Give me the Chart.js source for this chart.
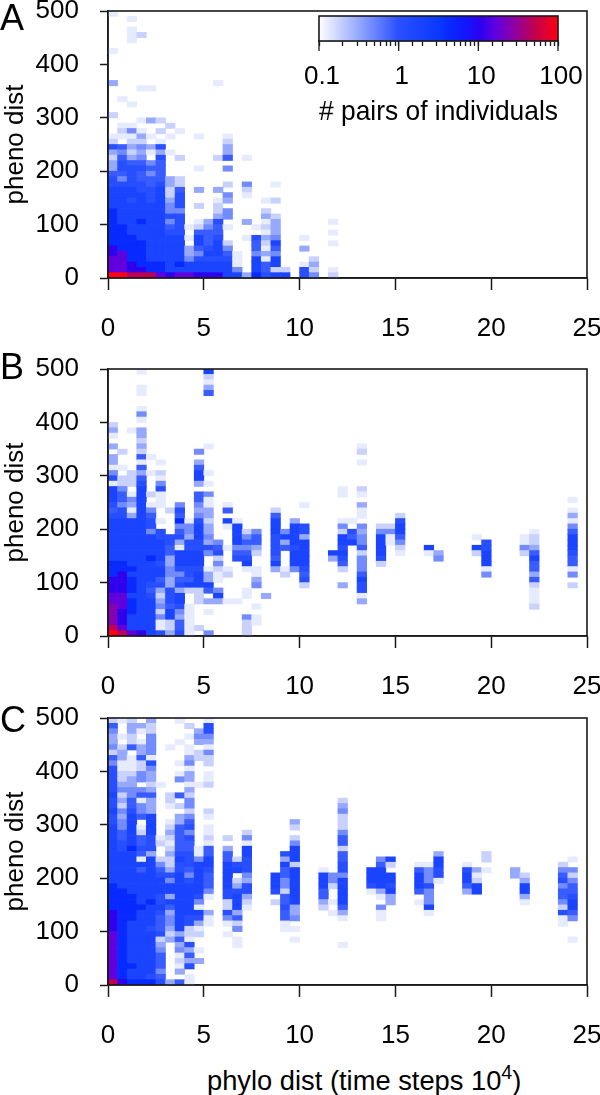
<!DOCTYPE html>
<html><head><meta charset="utf-8">
<script src="https://cdn.jsdelivr.net/npm/chart.js@4"></script>
<style>
html,body{margin:0;padding:0;background:#fff;width:600px;height:1095px;overflow:hidden;font-family:"Liberation Sans",sans-serif;color:#000}
canvas{position:absolute;left:0}
.t{position:absolute;white-space:nowrap;line-height:1}
sup{font-size:.72em;line-height:0;vertical-align:.55em}
</style></head><body>
<canvas id="pa" width="600" height="340" style="top:0"></canvas>
<canvas id="pb" width="600" height="340" style="top:358px"></canvas>
<canvas id="pc" width="600" height="340" style="top:707px"></canvas>
<canvas id="cb" width="300" height="125" style="left:300px;top:10px"></canvas>
<div class="t" style="left:0;top:0;font-size:36px">A</div>
<div class="t" style="left:0;top:349px;font-size:36px">B</div>
<div class="t" style="left:0;top:702px;font-size:36px">C</div>
<div class="t" id="xl" style="left:207px;top:1067px;font-size:27.3px">phylo dist (time steps 10<sup>4</sup>)</div>
<script>
// Intensity levels read from the picture, and the pair count each stands for.
const levelCounts = [0, 0.13, 0.18, 0.31, 0.46, 0.85, 1.1, 1.8, 4.4, 11, 17, 25, 50, 100];
const colorPositions = [0, 0.333, 0.5, 0.55, 0.62, 0.68, 0.74, 0.82, 0.9, 1];
const colorRamp = ['#ffffff', '#2a50ff', '#0a38ff', '#0828ff', '#1414ff', '#3000ee', '#6000e0', '#9000a0', '#c00050', '#ff0010'];
const legendTicks = [0.1, 1, 10, 100];
const xRange = [0, 25], yRange = [0, 500];
const xStep = 0.5, yStep = 10;

// [row, levels from column 0 rightwards]
const rowsA = [
[49,[1]],[48,[0,0,1]],[46,[0,0,1]],[45,[0,0,1,2]],[44,[0,0,1]],[42,[1]],
[36,[3,0,0,0,0,0,0,0,0,0,0,1]],[35,[0,0,0,1,1]],[33,[0,1]],[32,[0,0,1]],[30,[2]],
[29,[0,0,0,1,3,2]],[28,[0,1,1,0,0,0,2]],[27,[0,2,4,1,0,2,0,1]],
[26,[1,1,1,3,1,0,1,0,0,1,0,0,1]],[25,[2,0,2,2,0,1,0,0,0,0,0,0,2]],
[24,[6,5,3,4,3,6,0,0,0,0,0,0,3]],[23,[3,4,2,3,1,3,1,0,0,0,0,0,3]],
[22,[2,5,3,4,0,6,0,2,0,0,0,2,5,0,1]],[21,[3,6,5,5,4,5]],[20,[3,6,6,6,5,5,0,0,0,1,0,0,4]],
[19,[5,5,6,5,4,5]],[18,[6,4,6,5,5,5,3,2]],[17,[6,6,6,6,5,6,3,2,0,0,0,0,2,0,4,0,0,1]],
[16,[7,7,7,6,6,7,2,5,0,3,0,3,0,0,2]],[15,[7,7,7,7,6,7,2,6,0,0,0,0,4,0,1]],
[14,[7,7,6,7,6,7,3,6,0,0,0,1,3,0,0,0,1,2]],[13,[7,7,7,7,7,7,4,6,0,2,0,2]],
[12,[8,7,7,7,7,7,4,4,0,0,0,2,4,0,0,0,2]],[11,[8,7,7,7,7,7,6,6,0,0,0,3,4,0,0,0,3,2]],
[10,[8,7,7,8,7,7,4,6,0,1,3,6,0,0,3,0,1,3]],[9,[8,8,7,7,7,7,5,6,1,2,4,5,1,0,0,1,2,3]],
[8,[8,8,7,7,7,7,6,6,0,5,5,5,0,0,0,0,1,3]],[7,[8,8,8,7,7,7,7,7,1,7,5,6,0,0,1,6,3,4]],
[6,[8,8,8,8,7,7,7,7,0,7,5,7,2,0,0,5,2,7]],[5,[9,8,8,8,7,7,7,7,3,5,6,7,4,0,0,5,1,5]],
[4,[9,10,8,8,7,7,7,7,3,4,7,7,5,1,0,4,3,4]],[3,[10,10,8,8,7,7,7,7,4,6,6,6,6,1,0,7,1,7,0,0,0,2]],
[2,[10,10,9,8,8,8,7,8,7,7,7,7,7,1,0,7,5,7,0,0,1,3]],[1,[10,10,9,9,8,8,7,7,7,7,7,7,7,4,0,7,5,2,2,0,6,2,0,1]],
[0,[13,13,12,12,12,10,9,10,10,9,9,9,7,7,3,8,6,7,7,0,6,4,0,2]]
];
// [column, top row, levels going downwards]
const colsA = [[20,7,[1,0,3]],[23,10,[1,0,1,0,1]]];

const rowsB = [
[49,[0,0,0,1,0,0,0,0,0,0,7]],[48,[0,0,0,0,0,0,0,0,0,0,2]],[47,[0,0,0,0,0,0,0,0,0,0,1]],
[46,[0,0,0,1,0,0,0,0,0,0,3]],[45,[0,0,0,1,0,0,0,0,0,0,5]],[42,[0,0,0,1]],[41,[0,0,0,4]],[40,[0,0,0,1]],
[39,[2]],[38,[3,0,1,3]],[37,[1,0,0,3]],[36,[0,0,0,2]],[35,[3,0,0,3,0,0,0,0,0,0,1]],
[34,[0,2,0,2,0,0,0,0,0,4]],[33,[3,0,0,5,1]],[32,[3,0,0,1,0,1,0,0,0,3]],[31,[1,1,0,5,0,0,0,0,0,5]],
[30,[4,0,2,3,1,2,0,0,0,7,1]],[29,[6,2,2,5,0,1,0,0,0,7]],[28,[1,2,2,6,0,4,0,0,0,3,1]],
[27,[7,4,0,7,0,6]],[26,[7,5,1,7,2,1,0,0,0,5,4]],[25,[7,5,4,7,0,1,0,0,0,5,1]],
[24,[6,4,3,7,1,1,0,4,0,4,1,0,1]],[23,[5,6,1,7,4,0,2,6,0,3,3,0,5]],[22,[6,6,3,7,5,0,0,5,0,4,3]],
[21,[7,7,7,7,6,1,0,8,1,6,2,0,7,1]],[20,[7,7,7,7,6,0,0,4,4,7,3,0,1,7]],
[19,[7,7,7,7,4,6,0,5,4,7,3,0,0,7,2,4]],[18,[7,7,7,7,7,6,6,6,3,7,4,0,0,7,4,5]],
[17,[7,7,7,7,7,7,6,3,6,6,3,4,0,7,5,5]],[16,[7,7,7,7,7,7,5,1,6,6,6,5,1,4,4,3]],
[15,[7,7,7,7,7,7,5,7,7,7,4,6,0,5,5,2]],[14,[7,7,7,7,8,7,3,7,7,7,0,2,0,6,6]],
[13,[8,8,7,7,7,6,3,7,7,7,0,4,0,0,7]],[12,[8,8,8,7,7,7,4,6,6,6,1,2,1,0,1,1]],
[11,[8,9,7,7,7,7,4,4,6,7,3,1,2,0,0,1]],[10,[9,9,8,7,7,5,3,5,5,7,3,1,0,0,0,3]],
[9,[9,9,8,7,6,6,3,6,7,7,7,0,0,0,0,4]],[8,[9,9,8,7,5,3,6,3,2,2,5,4,0,0,1]],
[7,[10,10,7,7,6,2,6,7,0,2,0,7,0,0,1,0,3]],[6,[10,10,8,7,7,3,6,7,0,2,3,3,1,1]],
[5,[11,10,8,7,7,4,5,6,1,0,0,0,0,0,0,1]],[4,[11,9,8,7,7,2,7,4,1,0,1]],
[3,[11,9,7,7,7,4,7,3,1,0,0,0,0,0,4,1]],[2,[11,9,7,7,7,1,2,5,1,0,0,0,0,0,2,1]],
[1,[12,10,7,7,7,1,2,5,1,2,0,0,0,0,2]],[0,[13,12,10,9,7,6,3,6,1,0,4,0,0,0,2]]
];
const colsB = [
[17,23,[2,5,7,7,7,6,6,6,6,5,7,3]],[18,19,[4,7,3,5,0,0,0,1,2]],[19,21,[3,7,7,7,7,6,7,7,7,4]],
[20,24,[1,0,0,0,6,6,3,7,7,7,7,7,6,5,6,2]],[23,15,[7,3]],
[24,27,[1,1,0,0,0,0,1,4,2,7,7,6,7,6,5,2,0,0,3]],[25,21,[1,0,6,5,7]],
[26,35,[1,2,0,1,0,0,0,0,2,1,0,3,1,1,0,4,3,4,4,5,2,4,4,4,5,7,6,6,1,3]],
[28,20,[2,4,7,7,7,7,6,2]],[29,20,[2,4,1,1]],[30,22,[2,6,7,7,5,4,2,1]],[33,16,[7,1]],[34,15,[3,4]],
[38,18,[1,0,7,2]],[39,17,[6,6,7,7,7,1,4]],[43,18,[1,1,4,2]],
[44,19,[1,2,2,3,5,7,5,5,3,5,2,1,1,1,2]],[48,25,[1,0,1,3,1,4,5,7,7,7,6,5,5,1,4,0,2]]
];

const rowsC = [
[49,[2,1,2,0,3,0,0,1,0,0,1]],[48,[5,0,3,3,2,0,0,0,2,0,6]],[47,[4,0,3,1,2,0,0,0,0,3,6]],
[46,[3,1,2,0,4,0,0,0,1,4,4]],[45,[3,0,2,1,4,0,0,1,0,3,3]],[44,[4,2,5,3,4,0,1,0,1,0,1]],
[43,[2,3,0,3,4,0,0,0,1,2,4]],[42,[5,3,1,5,1,0,0,0,3,2,2]],[41,[4,1,1,2,6,0,0,1,4,0,2]],
[40,[6,1,1,2,4,0,0,0,1]],[39,[6,2,2,4,3,0,0,1,3,0,1]],[38,[6,2,3,4,3,0,0,4,3,0,1]],
[37,[6,3,3,0,2,1,0,0,1,1,2]],[36,[6,4,4,4,3,0,0,0,3]],[35,[7,2,4,5,5,0,2,5,2]],
[34,[6,3,5,1,3,0,2,0,4]],[33,[6,2,5,4,3,0,1,2,4]],[32,[7,4,6,4,3,0,0,0,2,0,2]],
[31,[6,3,7,5,7,0,0,3,4,0,1]],[30,[6,4,7,0,7,0,1,3,5]],[29,[7,4,7,1,7,0,2,5,6,0,1]],
[28,[7,5,7,2,7,0,3,5,4,0,1,0,0,0,2]],[27,[7,5,7,5,6,1,2,5,6,0,2,0,2,0,4]],
[26,[7,6,7,5,6,2,1,5,5,0,1,0,0,0,1]],[25,[7,6,8,6,6,0,2,5,5,1,5,0,3,0,7]],
[24,[7,7,7,5,3,0,3,6,6,1,5,0,5,0,7]],[23,[7,7,7,1,7,2,2,7,6,4,7,0,5,2,6]],
[22,[7,7,7,7,7,4,2,6,6,7,7,0,7,6,6]],[21,[7,7,7,5,7,5,3,6,5,7,6,0,7,7,6]],
[20,[7,7,7,7,7,6,6,7,4,7,5,0,7,0,4]],[19,[7,7,7,7,7,7,4,7,6,7,5,0,7,2,3]],
[18,[8,7,7,7,7,7,7,7,7,7,5,0,7,3,6]],[17,[8,8,7,7,7,7,7,7,7,7,4,0,6,6,6]],
[16,[8,8,8,7,7,6,3,7,7,6,1,0,6,7,3]],[15,[8,8,8,7,8,6,7,7,7,4,0,0,2,7,2]],
[14,[8,8,8,8,7,7,5,7,7,1,0,0,2,7,1]],[13,[9,8,8,7,7,6,3,7,7,7,3,0,6,3]],
[12,[9,8,8,7,7,5,4,7,6,6,1,0,4,5]],[11,[9,8,7,7,7,5,4,7,6,3,1,0,1,2]],
[10,[9,8,7,7,6,5,3,7,2,1,0,0,0,4]],[9,[10,8,7,7,7,6,2,3,2,2,0,0,1]],
[8,[10,8,7,7,7,2,3,5,1,0,0,0,0,1]],[7,[10,8,7,7,7,3,0,3,6,0,0,0,0,1]],
[6,[10,8,7,7,7,4,0,4,3,1]],[5,[10,8,7,7,7,5,0,1,5]],[4,[10,8,7,7,7,5,0,2,3,3]],
[3,[10,8,8,7,7,5,0,1,6]],[2,[10,8,7,7,7,4,0,3]],[1,[10,8,7,7,6,5,0,0,1]],[0,[12,9,8,8,8,6,3,5,1]]
];
const colsC = [
[17,20,[7,7,7,6,0,2]],[18,24,[6,3,7,5,5,4,4,2,5,5,6,5,5,1,1]],
[19,30,[3,2,0,2,4,7,7,7,2,7,7,7,7,7,7,7,3,3,4,0,1,0,1]],[22,21,[1,7,7,7,5,5,3,2]],
[23,20,[4,4,2,0,0,1,0,1]],[24,34,[2,3,4,2,2,2,4,5,5,2,5,5,6,6,4,7,7,7,7,7,5,3,1,0,0,0,0,1]],
[27,21,[7,7,7,6,1]],[28,23,[4,5,7,7,7,7,3,1,0,4,1,1]],[29,23,[7,2,0,7,7,6,7,3,3]],
[32,22,[1,5,7,7,7,5,0,1]],[33,22,[1,4,4,4,6,4,4,4,7,1]],[34,24,[3,7,7,6,6,1]],
[37,22,[1,6,7,7,5,3]],[38,21,[3,1,2,7,7]],[39,24,[2,2,0,1]],[42,21,[3,3]],[43,20,[2,3,7,7,3,1]],
[47,22,[2,4,5,6,4,5,5,4,2,6,1,1]],[48,23,[1,0,4,2,4,5,5,6,7,7,5,4,0,0,0,1]]
];

const FONT = 'Liberation Sans', INK = '#1a1a1a';

function hexRgb(h){return [1,3,5].map(i=>parseInt(h.slice(i,i+2),16));}
function rampColor(t){
  t=Math.max(0,Math.min(1,t));
  let i=0; while(i<colorPositions.length-2 && t>colorPositions[i+1]) i++;
  const f=(t-colorPositions[i])/(colorPositions[i+1]-colorPositions[i]);
  const a=hexRgb(colorRamp[i]), b=hexRgb(colorRamp[i+1]);
  return 'rgb('+a.map((v,k)=>Math.round(v+(b[k]-v)*f)).join(',')+')';
}
const countColor = c => rampColor((Math.log10(c)+1)/3);

function buildCells(rows, cols){
  const out=[];
  const push=(col,row,lvl)=>{ if(lvl>0) out.push({x:(col+0.5)*xStep,y:[row*yStep,(row+1)*yStep],v:levelCounts[lvl]}); };
  rows.forEach(([row,levels])=>levels.forEach((l,col)=>push(col,row,l)));
  cols.forEach(([col,top,levels])=>levels.forEach((l,i)=>push(col,top-i,l)));
  return out;
}
function noOverhang(s){s.paddingLeft=s.paddingRight=s.paddingTop=s.paddingBottom=0;}

const framePlugin={id:'frame',afterDatasetsDraw(chart){
  const a=chart.chartArea,c=chart.ctx;
  c.save();c.strokeStyle=INK;c.lineWidth=1.6;
  c.strokeRect(a.left,a.top,a.right-a.left,a.bottom-a.top);c.restore();
}};

function panel(id,rows,cols){
  return new Chart(document.getElementById(id),{
    type:'bar',
    data:{datasets:[{
      label:'# pairs of individuals',
      data:buildCells(rows,cols),
      backgroundColor:ctx=>ctx.raw?countColor(ctx.raw.v):'#fff',
      barPercentage:1,categoryPercentage:1,borderWidth:0
    }]},
    options:{
      responsive:false,animation:false,devicePixelRatio:1,
      layout:{autoPadding:false,padding:{top:11,right:13,left:0,bottom:0}},
      plugins:{legend:{display:false},tooltip:{enabled:false}},
      scales:{
        x:{type:'linear',offset:false,min:xRange[0],max:xRange[1],
          afterFit(s){s.height=62;noOverhang(s);},
          grid:{offset:false,drawOnChartArea:false,tickLength:12,tickWidth:1.5,tickColor:INK},
          border:{color:INK,width:1.5},
          ticks:{stepSize:5,color:'#000',padding:23,maxRotation:0,font:{family:FONT,size:26}}},
        y:{type:'linear',min:yRange[0],max:yRange[1],
          afterFit(s){s.width=108;noOverhang(s);},
          grid:{drawOnChartArea:false,tickLength:8,tickWidth:1.5,tickColor:INK},
          border:{color:INK,width:1.5},
          title:{display:true,text:'pheno dist',color:'#000',padding:0,font:{family:FONT,size:26}},
          ticks:{stepSize:100,color:'#000',padding:21,font:{family:FONT,size:26}}}
      }
    },
    plugins:[framePlugin]
  });
}
panel('pa',rowsA,colsA);
panel('pb',rowsB,colsB);
panel('pc',rowsC,colsC);

// colour key
const isLegendTick=v=>legendTicks.some(t=>Math.abs(t-v)<1e-9);
new Chart(document.getElementById('cb'),{
  type:'bar',
  data:{labels:['key'],datasets:[{
    data:[[legendTicks[0],legendTicks[legendTicks.length-1]]],
    backgroundColor(ctx){
      const a=ctx.chart.chartArea; if(!a) return '#fff';
      const g=ctx.chart.ctx.createLinearGradient(a.left,0,a.right,0);
      colorPositions.forEach((p,i)=>g.addColorStop(p,colorRamp[i]));
      return g;
    },
    barPercentage:1,categoryPercentage:1,borderWidth:0
  }]},
  options:{
    indexAxis:'y',responsive:false,animation:false,devicePixelRatio:1,
    layout:{autoPadding:false,padding:{top:6,left:19,right:42,bottom:0}},
    plugins:{legend:{display:false},tooltip:{enabled:false}},
    scales:{
      x:{type:'logarithmic',min:legendTicks[0],max:legendTicks[legendTicks.length-1],
        afterFit(s){s.height=125-31;noOverhang(s);},
        grid:{drawOnChartArea:false,tickLength:5,tickWidth:1.3,tickColor:INK},
        border:{color:INK,width:1.3},
        title:{display:true,align:'end',text:'# pairs of individuals',color:'#000',padding:{top:0,bottom:6},font:{family:FONT,size:27.6}},
        ticks:{autoSkip:false,maxRotation:0,color:'#000',padding:15,labelOffset:3,font:{family:FONT,size:26},
          callback:v=>isLegendTick(v)?String(+v.toPrecision(3)):''}},
      y:{display:false}
    }
  },
  plugins:[framePlugin,{id:'majorTicks',afterDraw(chart){
    const s=chart.scales.x,c=chart.ctx,b=chart.chartArea.bottom;
    c.save();c.strokeStyle=INK;c.lineWidth=1.3;
    legendTicks.forEach(t=>{const x=s.getPixelForValue(t);c.beginPath();c.moveTo(x,b);c.lineTo(x,b+10);c.stroke();});
    c.restore();
  }}]
});
</script>
</body></html>
